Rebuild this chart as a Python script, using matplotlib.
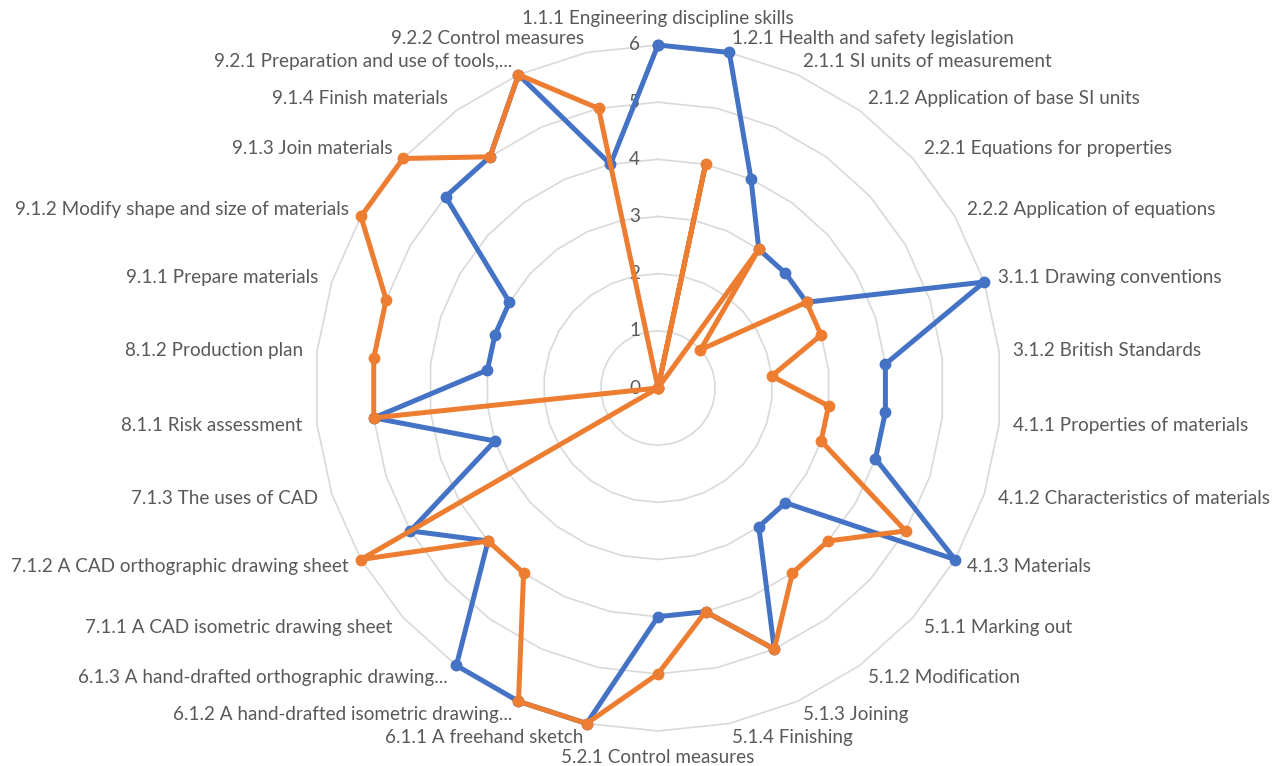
import numpy as np
import matplotlib
matplotlib.use('Agg')
import matplotlib.pyplot as plt

categories = [
    '1.1.1 Engineering discipline skills',
    '1.2.1 Health and safety legislation',
    '2.1.1 SI units of measurement',
    '2.1.2 Application of base SI units',
    '2.2.1 Equations for properties',
    '2.2.2 Application of equations',
    '3.1.1 Drawing conventions',
    '3.1.2 British Standards',
    '4.1.1 Properties of materials',
    '4.1.2 Characteristics of materials',
    '4.1.3 Materials',
    '5.1.1 Marking out',
    '5.1.2 Modification',
    '5.1.3 Joining',
    '5.1.4 Finishing',
    '5.2.1 Control measures',
    '6.1.1 A freehand sketch',
    '6.1.2 A hand-drafted isometric drawing...',
    '6.1.3 A hand-drafted orthographic drawing...',
    '7.1.1 A CAD isometric drawing sheet',
    '7.1.2 A CAD orthographic drawing sheet',
    '7.1.3 The uses of CAD',
    '8.1.1 Risk assessment',
    '8.1.2 Production plan',
    '9.1.1 Prepare materials',
    '9.1.2 Modify shape and size of materials',
    '9.1.3 Join materials',
    '9.1.4 Finish materials',
    '9.2.1 Preparation and use of tools,...',
    '9.2.2 Control measures',
]
series_blue = [6, 6, 4, 3, 3, 3, 6, 4, 4, 4, 6, 3, 3, 5, 4, 4, 6, 6, 6, 4, 5, 3, 5, 3, 3, 3, 5, 5, 6, 4]
series_orange = [0, 4, 0, 3, 1, 3, 3, 2, 3, 3, 5, 4, 4, 5, 4, 5, 6, 6, 4, 4, 6, 0, 5, 5, 5, 6, 6, 5, 6, 5]
rings = [0, 1, 2, 3, 4, 5, 6]

plt.rcParams['font.family'] = ['Lato', 'DejaVu Sans']
TXT = '#595959'
BLUE = '#4472C4'
ORANGE = '#ED7D31'
FS = 13.6

W, H = 1275, 766
cx, cy, R = 658, 388, 343
fig = plt.figure(figsize=(W / 100, H / 100), dpi=100)
ax = fig.add_axes([(cx - R) / W, (H - cy - R) / H, 2 * R / W, 2 * R / H], projection='polar')
ax.set_theta_zero_location('N')
ax.set_theta_direction(-1)
ax.set_ylim(0, max(rings))
ax.grid(False)
ax.set_xticks([])
ax.set_yticks([])
ax.spines['polar'].set_visible(False)
ax.patch.set_alpha(0)

n = len(categories)
theta = np.arange(n) * 2 * np.pi / n
theta_closed = np.append(theta, theta[0])

# polygon gridlines
for r in rings[1:]:
    ax.plot(theta_closed, [r] * (n + 1), color='#D9D9D9', lw=1.2, zorder=1, clip_on=False)

for vals, col in [(series_blue, BLUE), (series_orange, ORANGE)]:
    v = np.append(vals, vals[0])
    ax.plot(theta_closed, v, color=col, lw=3.6, marker='o', ms=7.5,
            solid_joinstyle='round', zorder=3, clip_on=False)

# radial value labels along the top spoke
for r in rings:
    ax.annotate(str(r), xy=(0, r), xytext=(-13, 0), textcoords='offset points',
                ha='right', va='center', fontsize=FS, color=TXT, zorder=2)

# category labels around the outside
for t, lab in zip(theta, categories):
    s = np.sin(t)
    if abs(s) < 0.05:
        ax.text(t, 6.47, lab, ha='center', va='center', fontsize=FS, color=TXT)
    else:
        ax.text(t, 6.25, lab, ha='left' if s > 0 else 'right', va='center',
                fontsize=FS, color=TXT)

fig.savefig('out.png', dpi=100, facecolor='white')
